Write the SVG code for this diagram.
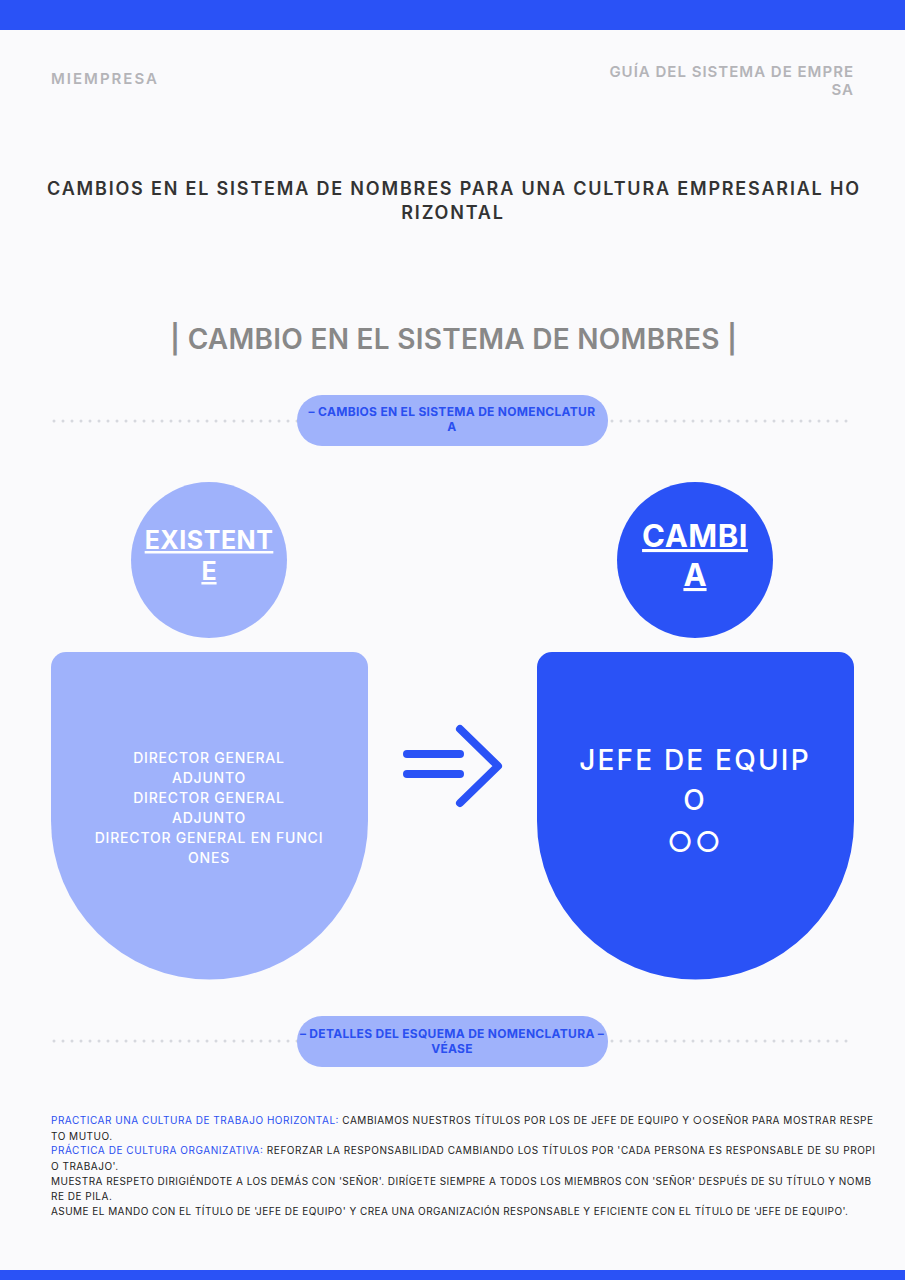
<svg xmlns="http://www.w3.org/2000/svg" width="905" height="1280" viewBox="0 0 905 1280">
<style>
text{font-family:Inter,"Noto Sans",sans-serif}
.hd{fill:#b4b4b8;font-size:15px;font-weight:600;letter-spacing:2px}
.hr{letter-spacing:1px}
.pill{fill:#9fb2fb}
.pt{fill:#2a4ff0;font-size:12px;font-weight:700;text-anchor:middle;letter-spacing:0.3px}
.dots{stroke:#d6d8de;stroke-width:3;stroke-linecap:round;stroke-dasharray:0 9}
.bl{fill:#2a4ff0}
</style>
<rect width="905" height="1280" fill="#fafafc"/>
<rect width="905" height="30" fill="#2a52f6"/>
<rect y="1270" width="905" height="10" fill="#2a52f6"/>
<text class="hd" x="51" y="84">MIEMPRESA</text>
<text class="hd hr" x="854" y="77" text-anchor="end">GUÍA DEL SISTEMA DE EMPRE</text>
<text class="hd hr" x="854" y="95" text-anchor="end">SA</text>
<text x="47" y="195" textLength="812" font-size="18" font-weight="600" fill="#333">CAMBIOS EN EL SISTEMA DE NOMBRES PARA UNA CULTURA EMPRESARIAL HO</text>
<text x="453" y="219" text-anchor="middle" font-size="18" font-weight="600" fill="#333" letter-spacing="1.8">RIZONTAL</text>
<text x="170" y="349" textLength="567" font-size="28" font-weight="600" fill="#888">| CAMBIO EN EL SISTEMA DE NOMBRES |</text>
<g id="connectors">
<line class="dots" x1="54" y1="421" x2="852" y2="421"/>
<line class="dots" x1="54" y1="1041" x2="852" y2="1041"/>
<g stroke="#2a52f6" stroke-width="8" stroke-linecap="round" fill="none">
<line x1="407" y1="754" x2="460" y2="754"/>
<line x1="407" y1="774" x2="460" y2="774"/>
<polyline points="460,729 498,766 460,803" stroke-linejoin="round"/>
</g>
</g>
<g id="pill1"><rect class="pill" x="297" y="395" width="311" height="51" rx="25"/>
<text class="pt" x="452" y="416">– CAMBIOS EN EL SISTEMA DE NOMENCLATUR</text><text class="pt" x="452" y="431">A</text></g>
<g id="pill2"><rect class="pill" x="297" y="1016" width="311" height="51" rx="25"/>
<text class="pt" x="452" y="1038">– DETALLES DEL ESQUEMA DE NOMENCLATURA –</text><text class="pt" x="452" y="1053">VÉASE</text></g>
<g id="existente">
<circle cx="209" cy="560" r="78" fill="#9fb2fb"/>
<text x="209" y="549" text-anchor="middle" font-size="25" font-weight="700" fill="#fff" text-decoration="underline" letter-spacing="0.5">EXISTENT</text>
<text x="209" y="580" text-anchor="middle" font-size="25" font-weight="700" fill="#fff" text-decoration="underline">E</text>
</g>
<g id="cambia">
<circle cx="695" cy="560" r="78" fill="#2a52f6"/>
<text x="695" y="547" text-anchor="middle" font-size="31" font-weight="700" fill="#fff" text-decoration="underline" letter-spacing="0.5">CAMBI</text>
<text x="695" y="586" text-anchor="middle" font-size="31" font-weight="700" fill="#fff" text-decoration="underline">A</text>
</g>
<g id="old">
<path d="M66,652 H353 A15,15 0 0 1 368,667 V821 A158.5,158.5 0 0 1 51,821 V667 A15,15 0 0 1 66,652 Z" fill="#9fb2fb"/>
<g fill="#fff" font-size="14" font-weight="500" text-anchor="middle" letter-spacing="0.8">
<text x="209" y="763">DIRECTOR GENERAL</text><text x="209" y="783">ADJUNTO</text>
<text x="209" y="803">DIRECTOR GENERAL</text><text x="209" y="823">ADJUNTO</text>
<text x="209" y="843">DIRECTOR GENERAL EN FUNCI</text><text x="209" y="863">ONES</text></g>
</g>
<g id="new">
<path d="M552,652 H839 A15,15 0 0 1 854,667 V821 A158.5,158.5 0 0 1 537,821 V667 A15,15 0 0 1 552,652 Z" fill="#2a52f6"/>
<g fill="#fff" font-size="28" font-weight="500" text-anchor="middle" letter-spacing="2.2">
<text x="695" y="770">JEFE DE EQUIP</text><text x="695" y="810">O</text><text x="695" y="852">○○</text></g>
</g>
<g font-size="10" fill="#222">
<text x="51" y="1124" textLength="822"><tspan class="bl">PRACTICAR UNA CULTURA DE TRABAJO HORIZONTAL:</tspan> CAMBIAMOS NUESTROS TÍTULOS POR LOS DE JEFE DE EQUIPO Y ○○SEÑOR PARA MOSTRAR RESPE</text>
<text x="51" y="1140" letter-spacing="0.5">TO MUTUO.</text>
<text x="51" y="1154" textLength="824"><tspan class="bl">PRÁCTICA DE CULTURA ORGANIZATIVA:</tspan> REFORZAR LA RESPONSABILIDAD CAMBIANDO LOS TÍTULOS POR 'CADA PERSONA ES RESPONSABLE DE SU PROPI</text>
<text x="51" y="1170" letter-spacing="0.5">O TRABAJO'.</text>
<text x="51" y="1185" textLength="820">MUESTRA RESPETO DIRIGIÉNDOTE A LOS DEMÁS CON 'SEÑOR'. DIRÍGETE SIEMPRE A TODOS LOS MIEMBROS CON 'SEÑOR' DESPUÉS DE SU TÍTULO Y NOMB</text>
<text x="51" y="1200" letter-spacing="0.5">RE DE PILA.</text>
<text x="51" y="1215" textLength="797">ASUME EL MANDO CON EL TÍTULO DE 'JEFE DE EQUIPO' Y CREA UNA ORGANIZACIÓN RESPONSABLE Y EFICIENTE CON EL TÍTULO DE 'JEFE DE EQUIPO'.</text>
</g>
</svg>
